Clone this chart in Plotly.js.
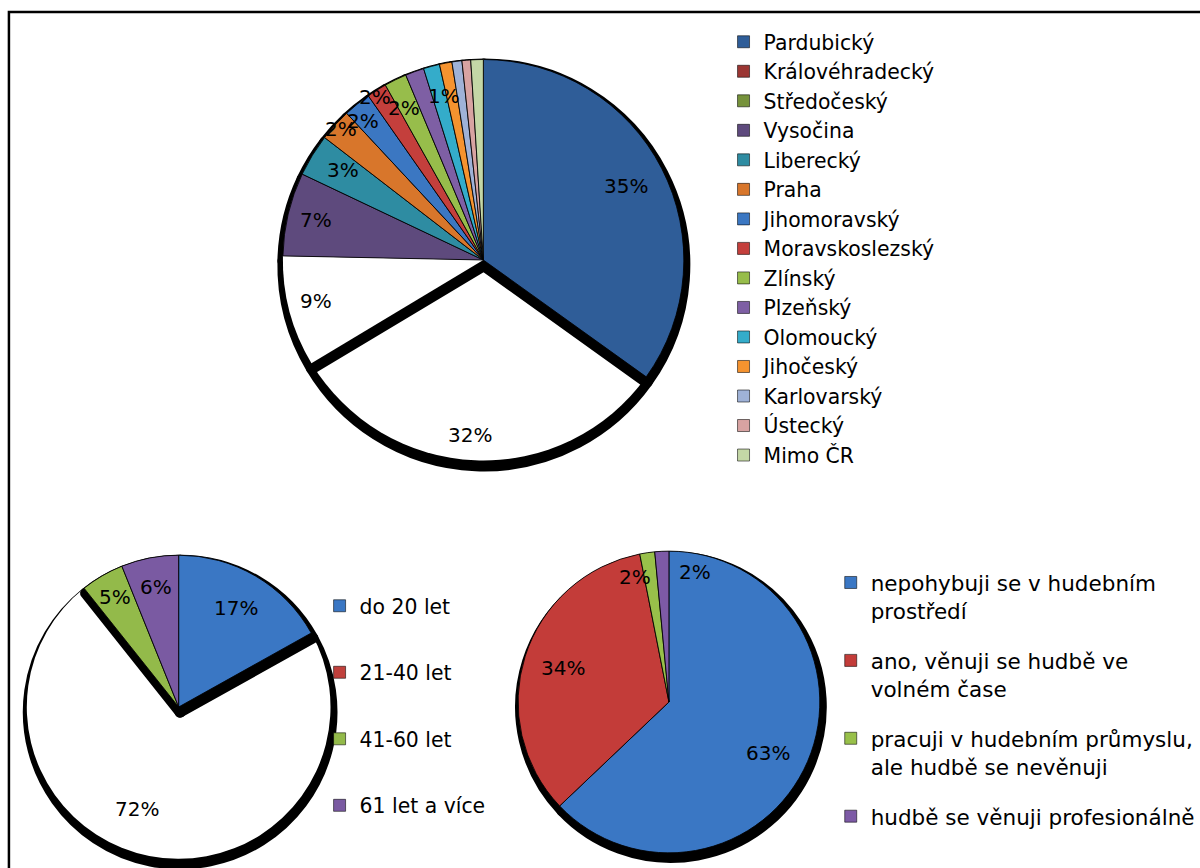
<!DOCTYPE html>
<html><head><meta charset="utf-8">
<script src="https://cdn.plot.ly/plotly-3.0.1.min.js"></script>
<style>
html,body{margin:0;padding:0;background:#fff;}
.pielayer path.surface{stroke-linejoin:round;}
</style>
</head><body><div id="chart" style="width:1200px;height:868px;"></div>
<script>
// ---------------- data ----------------
const regionLabels = ['Pardubický','Královéhradecký','Středočeský','Vysočina','Liberecký','Praha','Jihomoravský','Moravskoslezský','Zlínský','Plzeňský','Olomoucký','Jihočeský','Karlovarský','Ústecký','Mimo ČR'];
const regionValues = [34.8,31.4,8.9,6.7,3.4,2.6,2.2,1.6,1.8,1.5,1.3,1.0,0.8,0.7,1.0];
const regionText   = ['35%','32%','9%','7%','3%','2%','2%','2%','2%','','1%','','','',''];

const ageLabels = ['do 20 let','21-40 let','41-60 let','61 let a více'];
const ageValues = [16.9,72.4,4.6,6.1];
const ageText   = ['17%','72%','5%','6%'];

const musicLabels = ['nepohybuji se v hudebním<br>prostředí','ano, věnuji se hudbě ve<br>volném čase','pracuji v hudebním průmyslu,<br>ale hudbě se nevěnuji','hudbě se věnuji profesionálně'];
const musicValues = [62.9,34.0,1.6,1.5];
const musicText   = ['63%','34%','2%','2%'];

// ---------------- styles ----------------
const W = 1200, H = 868;
const T = 'rgba(0,0,0,0)';
const FONT = 'DejaVu Sans';
const regionColors = ['#2f5d98','#9b3633','#76923b','#5e4a7d','#2e8ca2','#d8762b','#3b77c2','#c43f3c','#97bd4b','#7e5fa4','#34acca','#f5932f','#9fb2d7','#d8a3a2','#c4d7a6'];
const ageColors = ['#3a77c4','#c0403c','#93ba4a','#7a5aa2'];
const musicColors = ['#3a77c4','#c33c39','#98c04a','#7d5aa6'];

function pieTraces(cfg) {
  const {labels, values, colors, white, under, cx, cy, R, legendId, sh} = cfg;
  const n = values.length;
  const idx = [...Array(n).keys()];
  const dom = (ox, oy) => ({x: [(cx - R + ox) / W, (cx + R + ox) / W], y: [1 - (cy + R + oy) / H, 1 - (cy - R + oy) / H]});
  const fills = colors.map((c, i) => white.includes(i) ? '#ffffff' : c);
  const base = {type: 'pie', labels: labels, values: values, sort: false, direction: 'clockwise', rotation: 0,
    textinfo: 'none', hoverinfo: 'skip', showlegend: false};
  const traces = [];
  // legend-only carriers (tiny, hidden under the pie centre)
  labels.forEach((lab, i) => {
    traces.push({type: 'pie', labels: [lab], values: [values[i]], sort: false, textinfo: 'none', hoverinfo: 'skip',
      legend: legendId, legendgroup: legendId + '_' + i, showlegend: true,
      domain: {x: [cx / W, (cx + 0.3) / W], y: [1 - (cy + 0.3) / H, 1 - cy / H]},
      marker: {colors: [colors[i]], line: {color: 'rgba(0,0,0,0.55)', width: 1}}});
  });
  const groups = [under, idx.filter(i => !under.includes(i))];
  groups.forEach(g => {
    if (!g.length) return;
    traces.push(Object.assign({}, base, {domain: dom(sh.dx, sh.dy), marker: {
      colors: idx.map(i => g.includes(i) ? '#000000' : T),
      line: {color: idx.map(i => g.includes(i) ? '#000000' : T), width: idx.map(i => g.includes(i) ? sh.w : 0)}}}));
    traces.push(Object.assign({}, base, {domain: dom(0, 0), marker: {
      colors: idx.map(i => g.includes(i) ? fills[i] : T),
      line: {color: idx.map(i => (g.includes(i) && !white.includes(i)) ? 'rgba(0,0,0,0.85)' : T),
             width: idx.map(i => (g.includes(i) && !white.includes(i)) ? 1 : 0)}}}));
  });
  return traces;
}

function labelAnns(values, texts, cx, cy, R, rFrac, dAng) {
  const tot = values.reduce((a, b) => a + b, 0);
  let cum = 0; const out = [];
  values.forEach((v, i) => {
    const a0 = cum / tot * 360; cum += v; const a1 = cum / tot * 360;
    if (!texts[i]) return;
    const th = ((a0 + a1) / 2 + dAng[i]) * Math.PI / 180;
    const r = rFrac[i] * R;
    out.push({xref: 'paper', yref: 'paper', x: (cx + r * Math.sin(th)) / W, y: 1 - (cy - r * Math.cos(th)) / H,
      text: texts[i], showarrow: false, xanchor: 'center', yanchor: 'middle',
      font: {family: FONT, size: 20, color: '#000'}});
  });
  return out;
}

const P1 = {cx: 487, cy: 260, R: 202};
const P2 = {cx: 180, cy: 707, R: 153};
const P3 = {cx: 674, cy: 702, R: 152};

const data = [].concat(
  pieTraces({labels: regionLabels, values: regionValues, colors: regionColors, white: [1, 2], under: [1],
    cx: P1.cx, cy: P1.cy, R: P1.R, legendId: 'legend', sh: {dx: 0.5, dy: 5, w: 12}}),
  pieTraces({labels: ageLabels, values: ageValues, colors: ageColors, white: [1], under: [1],
    cx: P2.cx, cy: P2.cy, R: P2.R, legendId: 'legend2', sh: {dx: 1.5, dy: 5, w: 11}}),
  pieTraces({labels: musicLabels, values: musicValues, colors: musicColors, white: [], under: [],
    cx: P3.cx, cy: P3.cy, R: P3.R, legendId: 'legend3', sh: {dx: 2, dy: 5, w: 10}})
);

const annotations = [].concat(
  labelAnns(regionValues, regionText, P1.cx, P1.cy, P1.R,
    [0.80,0.87,0.86,0.86,0.83,0.96,0.915,0.97,0.85,0.85,0.835,0.85,0.85,0.85,0.85],
    [0,2.1,1.3,0,1,0,-2.1,-1.6,-1.7,0,1.3,0,0,0,0]),
  labelAnns(ageValues, ageText, P2.cx, P2.cy, P2.R, [0.75,0.72,0.835,0.80], [0,11,0,0]),
  labelAnns(musicValues, musicText, P3.cx, P3.cy, P3.R, [0.74,0.74,0.85,0.87], [3.8,0,-7,14.1])
);

const legendBase = {xanchor: 'left', yanchor: 'top', bgcolor: T, borderwidth: 0,
  font: {family: FONT, size: 20.4, color: '#000'}, traceorder: 'grouped', itemclick: false, itemdoubleclick: false};

const layout = {
  width: W, height: H, autosize: false,
  margin: {l: 0, r: 0, t: 0, b: 0},
  paper_bgcolor: '#ffffff', plot_bgcolor: '#ffffff',
  font: {family: FONT, color: '#000'},
  showlegend: true,
  legend: Object.assign({}, legendBase, {x: 729 / W, y: 1 - 22 / H, tracegroupgap: 0}),
  legend2: Object.assign({}, legendBase, {x: 322 / W, y: 1 - 586 / H, tracegroupgap: 37}),
  legend3: Object.assign({}, legendBase, {x: 837 / W, y: 1 - 562 / H, tracegroupgap: 19, valign: 'top',
    font: {family: FONT, size: 21.5, color: '#000'}}),
  shapes: [{type: 'rect', xref: 'paper', yref: 'paper', x0: 9 / W, y0: 1 - 12 / H, x1: 1215 / W, y1: -20 / H,
    line: {color: '#000', width: 2.5}, fillcolor: T, layer: 'above'}],
  annotations: annotations
};

Plotly.newPlot('chart', data, layout, {displayModeBar: false, staticPlot: true});
</script>
</body></html>
